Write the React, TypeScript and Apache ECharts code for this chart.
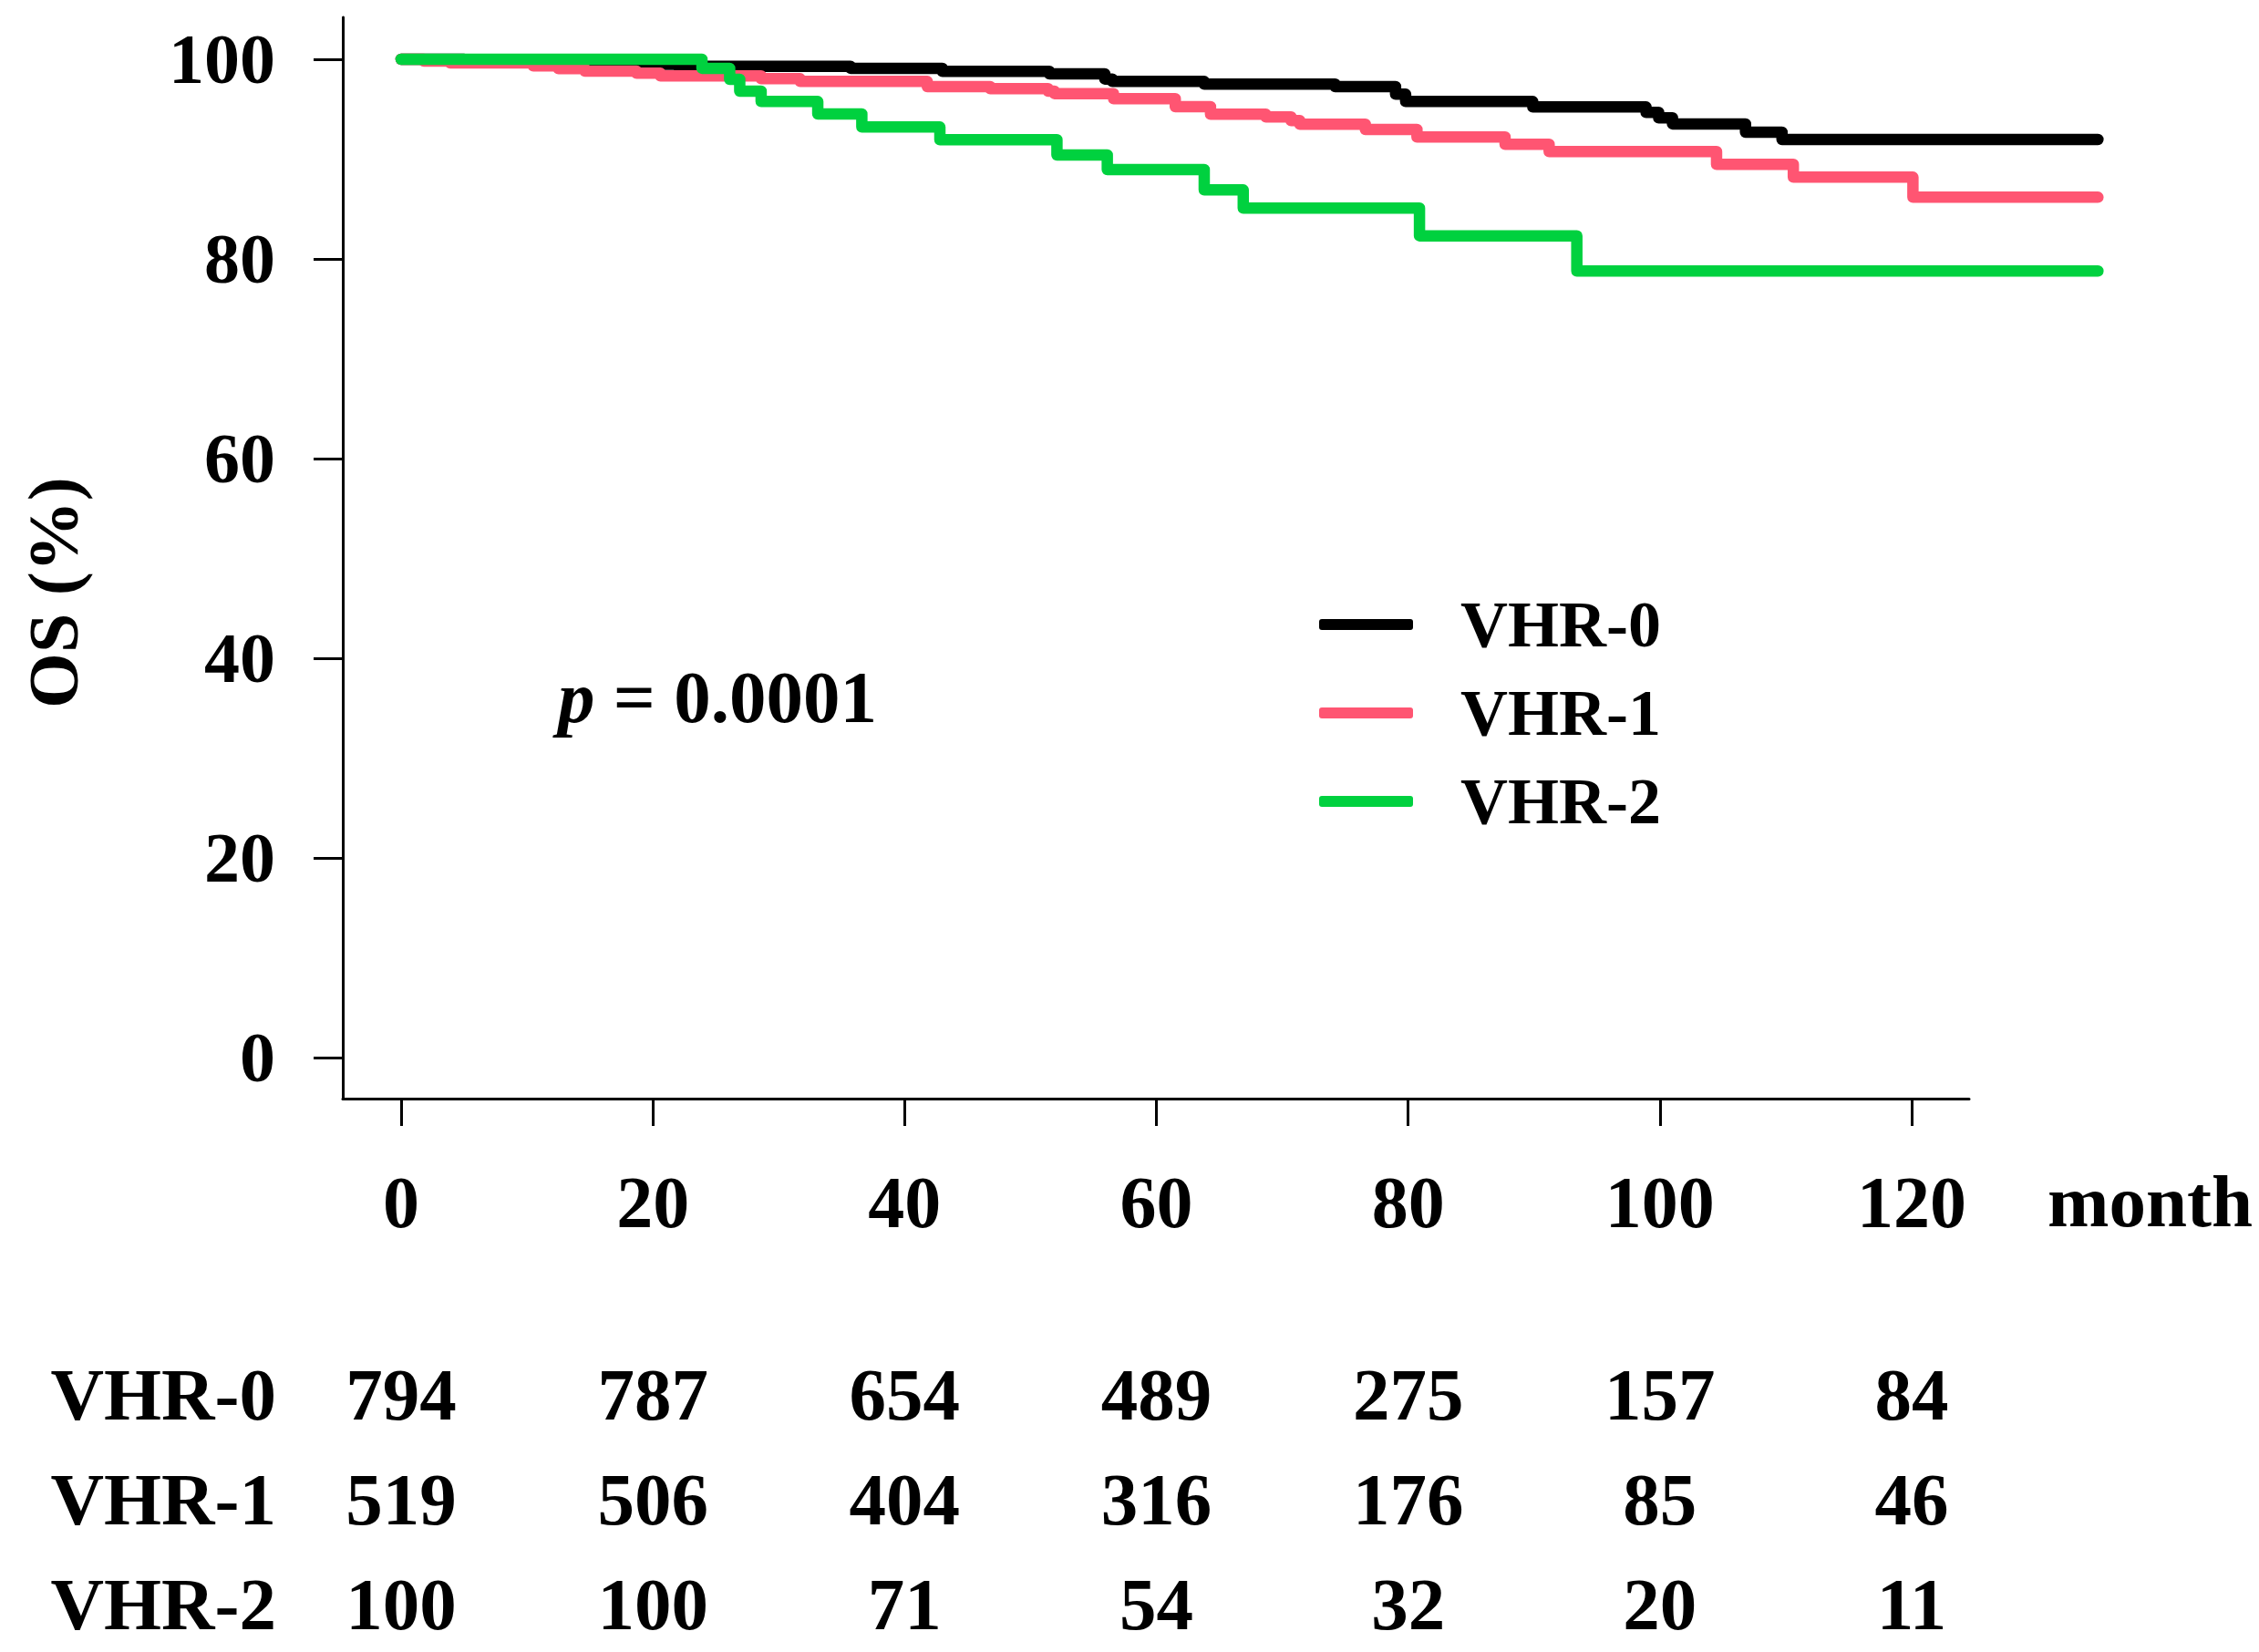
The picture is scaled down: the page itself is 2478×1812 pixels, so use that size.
import React, { useEffect, useRef } from "react";
import * as echarts from "echarts";

// ---- data ----
const groupNames = ["VHR-0", "VHR-1", "VHR-2"];
const groupColors = ["#000000", "#FF5572", "#00D13F"];

// Kaplan-Meier steps: [month, OS %]
const vhr0Steps: [number, number][] = [
  [0, 100], [5, 99.9], [12, 99.7], [16, 99.5], [22, 99.3], [35.7, 99.09], [43, 98.79],
  [51.5, 98.54], [55.9, 98.02], [56.5, 97.78], [63.8, 97.51], [74.2, 97.26], [79, 96.5],
  [79.8, 95.77], [89.9, 95.22], [98.9, 94.68], [99.9, 94.13], [101, 93.52], [106.8, 92.69],
  [109.7, 91.96], [134.8, 91.96],
];
const vhr1Steps: [number, number][] = [
  [0, 100], [1.8, 99.82], [3.9, 99.63], [10.5, 99.33], [12.5, 99.06], [14.6, 98.81],
  [18.7, 98.6], [20.6, 98.33], [28.6, 98.05], [31.7, 97.78], [41.8, 97.26], [46.8, 97.05],
  [51.4, 96.8], [51.9, 96.56], [56.6, 96.05], [61.5, 95.25], [64.3, 94.49], [68.7, 94.22],
  [70.7, 93.85], [71.4, 93.49], [76.6, 92.97], [80.7, 92.21], [87.7, 91.48], [91.2, 90.75],
  [104.5, 89.47], [110.6, 88.19], [120.1, 86.18], [134.8, 86.18],
];
const vhr2Steps: [number, number][] = [
  [0, 100], [23.9, 99.09], [26.1, 97.99], [26.9, 96.8], [28.6, 95.77], [33.1, 94.52],
  [36.6, 93.21], [42.8, 91.94], [52.1, 90.41], [56.1, 88.95], [63.8, 86.91], [66.9, 85.09],
  [80.9, 82.31], [93.4, 78.79], [134.8, 78.79],
];

// number at risk
const riskMonths = [0, 20, 40, 60, 80, 100, 120];
const riskVHR0 = [794, 787, 654, 489, 275, 157, 84];
const riskVHR1 = [519, 506, 404, 316, 176, 85, 46];
const riskVHR2 = [100, 100, 71, 54, 32, 20, 11];

const xTicks = [0, 20, 40, 60, 80, 100, 120];
const yTicks = [0, 20, 40, 60, 80, 100];
const xAxisTitle = "month";
const yAxisTitle = "OS (%)";
const pLabel = "p";
const pValueText = " = 0.0001";

const FONT = '"Liberation Serif", "Times New Roman", serif';

// axis ranges (axis frame and the wider plotting area share the same scale)
const X_MIN = -4.635;
const X_MAX_FRAME = 124.56;
const X_MAX_PLOT = 136.15;
const Y_MIN = -4.11;
const Y_MAX = 104.2;

export default function App() {
  const ref = useRef<HTMLDivElement>(null);

  useEffect(() => {
    if (!ref.current) return;
    const chart = echarts.init(ref.current, null, { renderer: "svg" });

    const stepsList = [vhr0Steps, vhr1Steps, vhr2Steps];
    const riskList = [riskVHR0, riskVHR1, riskVHR2];

    const lineSeries = groupNames.map((name, i) => ({
      name,
      type: "line",
      xAxisIndex: 1,
      yAxisIndex: 1,
      step: "end",
      showSymbol: false,
      symbol: "none",
      data: stepsList[i],
      color: groupColors[i],
      lineStyle: { color: groupColors[i], width: 12.5, cap: "round", join: "round" },
      z: 3 + i,
    }));

    const riskData: any[] = [];
    groupNames.forEach((g, gi) => {
      riskMonths.forEach((m, mi) => riskData.push([m, gi, riskList[gi][mi]]));
    });

    const hiddenAxis = {
      axisLine: { show: false },
      axisTick: { show: false },
      axisLabel: { show: false },
      splitLine: { show: false },
    };

    const option: any = {
      animation: false,
      backgroundColor: "#ffffff",
      textStyle: { fontFamily: FONT },
      grid: [
        { left: 376, top: 19, width: 1784, height: 1186 },
        { left: 376, top: 19, width: 1944, height: 1186 },
        { left: 376, top: 1530, width: 1784, height: 230 },
      ],
      xAxis: [
        {
          type: "value",
          gridIndex: 0,
          min: X_MIN,
          max: X_MAX_FRAME,
          splitLine: { show: false },
          axisLine: { show: true, onZero: false, lineStyle: { color: "#000", width: 3 } },
          axisTick: { show: true, customValues: xTicks, length: 30, lineStyle: { color: "#000", width: 3 } },
          axisLabel: {
            show: true,
            customValues: xTicks,
            margin: 114,
            verticalAlign: "middle",
            color: "#000",
            fontFamily: FONT,
            fontWeight: "bold",
            fontSize: 80,
          },
        },
        { type: "value", gridIndex: 1, min: X_MIN, max: X_MAX_PLOT, ...hiddenAxis },
        { type: "value", gridIndex: 2, min: X_MIN, max: X_MAX_FRAME, ...hiddenAxis },
      ],
      yAxis: [
        {
          type: "value",
          gridIndex: 0,
          min: Y_MIN,
          max: Y_MAX,
          splitLine: { show: false },
          axisLine: { show: true, onZero: false, lineStyle: { color: "#000", width: 3 } },
          axisTick: { show: true, customValues: yTicks, length: 32, lineStyle: { color: "#000", width: 3 } },
          axisLabel: {
            show: true,
            customValues: yTicks,
            margin: 74,
            color: "#000",
            fontFamily: FONT,
            fontWeight: "bold",
            fontSize: 78,
          },
        },
        { type: "value", gridIndex: 1, min: Y_MIN, max: Y_MAX, ...hiddenAxis },
        {
          type: "category",
          gridIndex: 2,
          data: groupNames,
          inverse: true,
          boundaryGap: false,
          axisLine: { show: false },
          axisTick: { show: false },
          splitLine: { show: false },
          axisLabel: {
            show: true,
            margin: 73,
            color: "#000",
            fontFamily: FONT,
            fontWeight: "bold",
            fontSize: 81,
          },
        },
      ],
      legend: {
        data: groupNames,
        orient: "vertical",
        left: 1442,
        top: 640,
        itemWidth: 103,
        itemHeight: 12,
        itemGap: 17,
        icon: "roundRect",
        selectedMode: false,
        textStyle: {
          color: "#000",
          fontFamily: FONT,
          fontWeight: "bold",
          fontSize: 72,
          lineHeight: 80,
          padding: [0, 0, 0, 47],
        },
      },
      series: [
        ...lineSeries,
        {
          name: "atrisk",
          type: "custom",
          xAxisIndex: 2,
          yAxisIndex: 2,
          data: riskData,
          renderItem: (params: any, api: any) => {
            const pt = api.coord([api.value(0), api.value(1)]);
            return {
              type: "text",
              x: pt[0],
              y: pt[1],
              style: {
                text: String(api.value(2)),
                fill: "#000",
                font: `bold 81px ${FONT}`,
                align: "center",
                verticalAlign: "middle",
              },
            };
          },
        },
      ],
      graphic: [
        {
          type: "text",
          x: 2246,
          y: 1318,
          style: {
            text: xAxisTitle,
            fill: "#000",
            font: `bold 81px ${FONT}`,
            align: "left",
            textAlign: "left",
            verticalAlign: "middle",
            textVerticalAlign: "middle",
          },
        },
        {
          type: "text",
          x: 58,
          y: 650,
          rotation: Math.PI / 2,
          style: {
            text: yAxisTitle,
            fill: "#000",
            font: `bold 78px ${FONT}`,
            align: "center",
            textAlign: "center",
            verticalAlign: "middle",
            textVerticalAlign: "middle",
          },
        },
        {
          type: "text",
          x: 612,
          y: 765,
          style: {
            text: `{p|${pLabel}}{n|${pValueText}}`,
            fill: "#000",
            font: `bold 81px ${FONT}`,
            align: "left",
            textAlign: "left",
            verticalAlign: "middle",
            textVerticalAlign: "middle",
            rich: {
              p: { fontFamily: FONT, fontSize: 81, fontWeight: "bold", fontStyle: "italic", fill: "#000", color: "#000" },
              n: { fontFamily: FONT, fontSize: 81, fontWeight: "bold", fill: "#000", color: "#000" },
            },
          },
        },
      ],
    };

    chart.setOption(option);
    return () => chart.dispose();
  }, []);

  return (
    <div
      ref={ref}
      style={{ position: "absolute", left: 0, top: 0, width: 2478, height: 1812, background: "#fff" }}
    />
  );
}
